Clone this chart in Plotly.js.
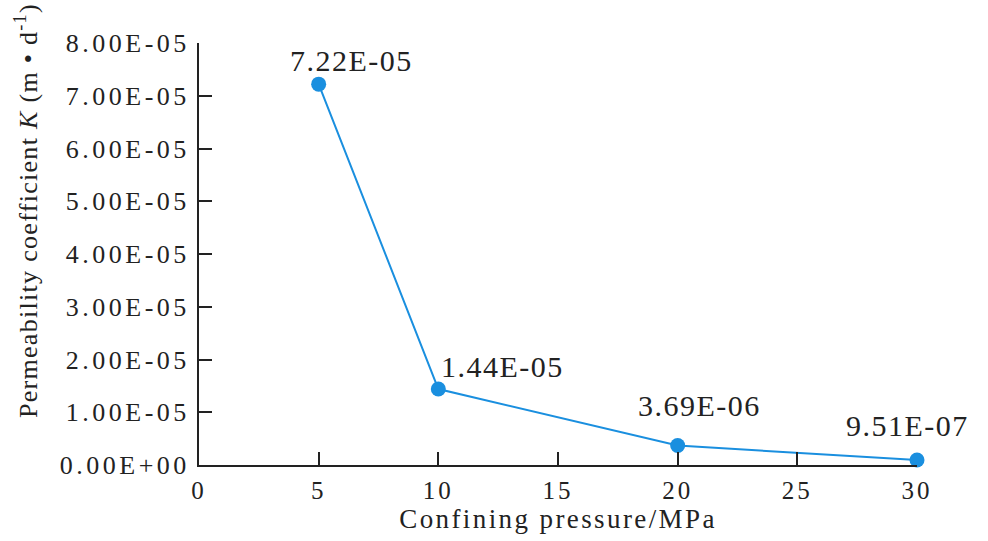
<!DOCTYPE html>
<html>
<head>
<meta charset="utf-8">
<script src="https://cdn.plot.ly/plotly-3.0.1.min.js"></script>
<style>
  html, body { margin: 0; padding: 0; background: #fff; }
  #chart { width: 988px; height: 541px; }
  .ytick text { letter-spacing: 3.5px; }
  .xtick text { letter-spacing: 3px; }
  text.xtitle { letter-spacing: 2.4px; }
  .annotation-text { letter-spacing: 1.5px; }
  .annotation.ytitle-ann .annotation-text { letter-spacing: 1.3px; }
</style>
</head>
<body>
<div id="chart"></div>
<script>
// Data
var pressure = [5, 10, 20, 30];                          // Confining pressure / MPa
var permeability = [7.22e-5, 1.44e-5, 3.69e-6, 9.51e-7]; // K (m·d^-1)
var pointLabels = ["7.22E-05", "1.44E-05", "3.69E-06", "9.51E-07"];

var xTickVals = [0, 5, 10, 15, 20, 25, 30];
var xTickText = ["0", "5", "10", "15", "20", "25", "30"];
var yTickVals = [0, 1e-5, 2e-5, 3e-5, 4e-5, 5e-5, 6e-5, 7e-5, 8e-5];
var yTickText = ["0.00E+00", "1.00E-05", "2.00E-05", "3.00E-05", "4.00E-05",
                 "5.00E-05", "6.00E-05", "7.00E-05", "8.00E-05"];

var xTitle = "Confining pressure/MPa";
var yTitle = "Permeability coefficient <i>K</i> (m \u2022 d<sup>-1</sup>)";

// Label offsets (style, in pixels)
var labelShiftX = [33, 64, 22, -10];
var labelShiftY = [24, 23, 40, 34];

var blue = "#1a8fdf";
var ink = "#222222";
var serif = "Liberation Serif, Times New Roman, serif";

var trace = {
  x: pressure,
  y: permeability,
  type: "scatter",
  mode: "lines+markers",
  line: { color: blue, width: 2 },
  marker: { color: blue, size: 15 },
  cliponaxis: false,
  hoverinfo: "x+y"
};

var annotations = pointLabels.map(function (t, i) {
  return {
    x: pressure[i], y: permeability[i], xref: "x", yref: "y",
    text: t, showarrow: false, xanchor: "center", yanchor: "middle",
    xshift: labelShiftX[i], yshift: labelShiftY[i],
    font: { family: serif, size: 30, color: ink }
  };
});
annotations.push({
  xref: "paper", yref: "paper", x: -0.24, y: 0.602,
  text: yTitle, showarrow: false, textangle: -90,
  xanchor: "center", yanchor: "middle",
  font: { family: serif, size: 26, color: ink }
});

var layout = {
  width: 988, height: 541,
  margin: { l: 199, r: 71, t: 43, b: 76, pad: 0 },
  paper_bgcolor: "#ffffff", plot_bgcolor: "#ffffff",
  showlegend: false,
  font: { family: serif, color: ink },
  xaxis: {
    range: [0, 30], tickvals: xTickVals, ticktext: xTickText,
    ticks: "inside", ticklen: 13, tickwidth: 2, tickcolor: ink,
    showline: true, linecolor: ink, linewidth: 2,
    showgrid: false, zeroline: false, automargin: false,
    tickfont: { family: serif, size: 25, color: ink },
    ticklabelstandoff: 2,
    title: { text: xTitle, font: { family: serif, size: 27, color: ink }, standoff: 4 }
  },
  yaxis: {
    range: [0, 8e-5], tickvals: yTickVals, ticktext: yTickText,
    ticks: "inside", ticklen: 13, tickwidth: 2, tickcolor: ink,
    showline: true, linecolor: ink, linewidth: 2,
    showgrid: false, zeroline: false, automargin: false,
    tickfont: { family: serif, size: 26, color: ink },
    ticklabelstandoff: 2
  },
  annotations: annotations
};

Plotly.newPlot("chart", [trace], layout, { displayModeBar: false, staticPlot: true }).then(function () {
  var anns = document.querySelectorAll("g.annotation");
  if (anns.length) anns[anns.length - 1].classList.add("ytitle-ann");
});
</script>
</body>
</html>
